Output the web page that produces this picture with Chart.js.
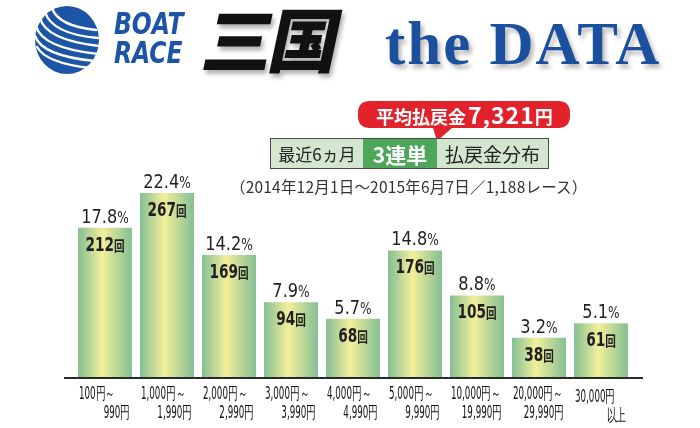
<!DOCTYPE html>
<html>
<head>
<meta charset="utf-8">
<script src="https://cdn.jsdelivr.net/npm/chart.js@4/dist/chart.umd.min.js"></script>
<style>
html, body { margin: 0; padding: 0; background: #fff; }
#wrap { position: relative; width: 700px; height: 428px; overflow: hidden; font-family: "Noto Sans CJK JP", sans-serif; }
#wrap canvas { position: absolute; left: 0; top: 0; }
.abs { position: absolute; white-space: nowrap; }
#boatrace { left: 114px; top: 9px; color: #1d55a6; font: italic bold 31px/29px "DejaVu Sans Condensed", sans-serif; transform: scaleX(0.84); transform-origin: left top; }
#mikuni { left: 206px; top: 2px; color: #111; font: 900 70px/1 "Noto Sans CJK JP", sans-serif; transform: skewX(-12deg); text-shadow: 3px 4px 4px rgba(0,0,0,0.3); letter-spacing: -4px; }
#thedata { left: 385px; top: 13px; color: #1b509f; font: bold 61px/1 "Liberation Serif", serif; letter-spacing: 2px; text-shadow: 3px 4px 4px rgba(0,0,0,0.28); }
#bubbleText { left: 376px; top: 97px; color: #fff; font-weight: bold; display: flex; align-items: baseline; }
#bubbleText .a { font-size: 18px; }
#bubbleText .b { font-size: 23px; letter-spacing: 1px; margin-left: 2px; }
#bubbleText .c { font-size: 18px; }
#titleBox { left: 270px; top: 138px; width: 277px; height: 29px; border: 1px solid #4a4a4a; display: flex; background: #d4e6d0; color: #222; }
#titleBox div { display: flex; align-items: center; justify-content: center; }
#titleBox .t1 { width: 92px; font-size: 17px; }
#titleBox .t2 { width: 74px; background: #4ea65a; color: #fff; font-weight: bold; font-size: 21px; }
#titleBox .t3 { flex: 1; font-size: 19px; }
#period { left: 230px; top: 175px; color: #333; font-size: 15.5px; letter-spacing: 0.2px; }
</style>
</head>
<body>
<div id="wrap">
  <canvas id="chart" width="700" height="428"></canvas>
  <svg class="abs" style="left:0;top:0" width="110" height="85">
    <ellipse cx="67" cy="40" rx="32" ry="34" fill="#1d55a6"/>
    <g fill="none" stroke="#fff" stroke-width="2.4" stroke-linecap="round">
      <path d="M52 8 Q58 26 96 30"/>
      <path d="M45 12 Q52 34 98 38"/>
      <path d="M40 18 Q46 40 99 46"/>
      <path d="M36 26 Q42 48 98 54"/>
      <path d="M35 36 Q42 56 95 61"/>
      <path d="M37 47 Q46 63 90 68"/>
    </g>
  </svg>
  <div id="boatrace" class="abs">BOAT<br>RACE</div>
  <div id="mikuni" class="abs">三国</div>
  <div id="thedata" class="abs">the DATA</div>
  <svg class="abs" style="left:355px;top:98px" width="220" height="50">
    <path d="M15 3 H203 Q215 3 215 15 V18 Q215 30 203 30 H97 L82 43 L78 30 H15 Q3 30 3 18 V15 Q3 3 15 3 Z" fill="#e3232b"/>
  </svg>
  <div id="bubbleText" class="abs"><span class="a">平均払戻金</span><span class="b">7,321</span><span class="c">円</span></div>
  <div id="titleBox" class="abs"><div class="t1">最近6ヵ月</div><div class="t2">3連単</div><div class="t3">払戻金分布</div></div>
  <div id="period" class="abs">（2014年12月1日～2015年6月7日／1,188レース）</div>
</div>
<script>
// 払戻金の区分
const ranges = [
    ['100円～', '990円'],
    ['1,000円～', '1,990円'],
    ['2,000円～', '2,990円'],
    ['3,000円～', '3,990円'],
    ['4,000円～', '4,990円'],
    ['5,000円～', '9,990円'],
    ['10,000円～', '19,990円'],
    ['20,000円～', '29,990円'],
    ['30,000円', '以上']
];
// 回数
const counts = [212, 267, 169, 94, 68, 176, 105, 38, 61];
// 割合 (%)
const shares = [17.8, 22.4, 14.2, 7.9, 5.7, 14.8, 8.8, 3.2, 5.1];

// the original bars don't start at zero
const yFloor = -24;
const yTop = 300;
const barPct = 0.87;

// draws horizontally squeezed text made of pieces with different fonts
function drawNarrow(ctx, pieces, x, y, sx, align) {
    let total = 0;
    pieces.forEach(function(p) {
        ctx.font = p.font;
        p.w = ctx.measureText(p.text).width;
        total += p.w;
    });
    let start = x;
    if (align === 'center') start = x - total * sx / 2;
    if (align === 'right') start = x - total * sx;
    ctx.save();
    ctx.translate(start, y);
    ctx.scale(sx, 1);
    ctx.textAlign = 'left';
    ctx.textBaseline = 'alphabetic';
    let cx = 0;
    pieces.forEach(function(p) {
        ctx.font = p.font;
        ctx.fillText(p.text, cx, 0);
        cx += p.w;
    });
    ctx.restore();
}

const barLabels = {
    id: 'barLabels',
    afterDatasetsDraw(chart) {
        const ctx = chart.ctx;
        const area = chart.chartArea;
        const xs = chart.scales.x;
        ctx.save();

        // baseline
        ctx.strokeStyle = '#2a2a2a';
        ctx.lineWidth = 2;
        ctx.beginPath();
        ctx.moveTo(area.left - 10, area.bottom + 1);
        ctx.lineTo(area.right + 11, area.bottom + 1);
        ctx.stroke();

        ctx.fillStyle = '#231f20';
        chart.getDatasetMeta(0).data.forEach(function(bar, i) {
            drawNarrow(ctx, [
                { text: shares[i].toFixed(1), font: '20px "DejaVu Sans Condensed"' },
                { text: '%', font: '15px "DejaVu Sans Condensed"' }
            ], bar.x, bar.y - 5, 0.9, 'center');
            drawNarrow(ctx, [
                { text: String(counts[i]), font: 'bold 20px "DejaVu Sans Condensed"' },
                { text: '回', font: 'bold 14px "Noto Sans CJK JP"' }
            ], bar.x, bar.y + 23, 0.76, 'center');
        });

        // category labels
        ctx.fillStyle = '#111';
        const lf = '17px "DejaVu Sans Condensed"';
        ranges.forEach(function(r, i) {
            const cx = xs.getPixelForValue(i);
            const openEnd = r[0].indexOf('～') < 0;
            drawNarrow(ctx, [{ text: r[0], font: lf }], cx - 26, openEnd ? 402 : 399, 0.57, 'left');
            drawNarrow(ctx, [{ text: r[1], font: lf }], cx + 25, openEnd ? 421 : 418, 0.57, 'right');
        });
        ctx.restore();
    }
};

function barFill(context) {
    const chart = context.chart;
    if (!chart.chartArea) return '#c9df9e';
    const xs = chart.scales.x;
    const x = xs.getPixelForValue(context.dataIndex);
    const half = xs.width / ranges.length * barPct / 2;
    const g = chart.ctx.createLinearGradient(x - half, 0, x + half, 0);
    g.addColorStop(0, '#84bf94');
    g.addColorStop(0.45, '#f2ef9a');
    g.addColorStop(1, '#84bf94');
    return g;
}

new Chart(document.getElementById('chart'), {
    type: 'bar',
    data: {
        labels: ranges,
        datasets: [{
            label: '回数',
            data: counts.map(function(c) { return [yFloor, c]; }),
            backgroundColor: barFill,
            borderWidth: 0,
            barPercentage: barPct,
            categoryPercentage: 1
        }]
    },
    options: {
        responsive: false,
        animation: false,
        devicePixelRatio: 1,
        layout: { padding: { left: 74, right: 68, top: 172, bottom: 51 } },
        scales: {
            x: { display: false },
            y: { display: false, min: yFloor, max: yTop }
        },
        plugins: {
            legend: { display: false },
            tooltip: { enabled: false }
        }
    },
    plugins: [barLabels]
});
</script>
</body>
</html>
